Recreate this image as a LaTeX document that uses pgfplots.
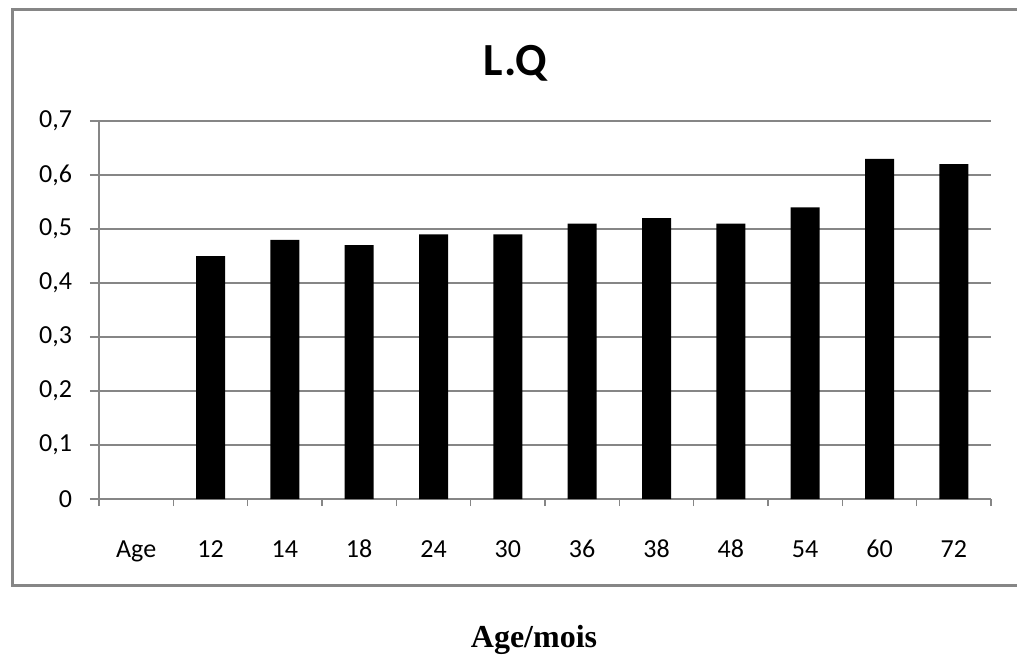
\documentclass[border=0pt]{standalone}
\usepackage{fontspec}
\setmainfont{Carlito}
\newfontfamily\timesf{Liberation Serif}
\usepackage{pgfplots}
\pgfplotsset{compat=1.18}
\definecolor{gridgray}{RGB}{134,134,134}
\begin{document}
\begin{tikzpicture}
\useasboundingbox (0,0) rectangle (508.5pt,327.5pt);
\fill[white] (0,0) rectangle (508.5pt,327.5pt);
\draw[gridgray, line width=1.5pt] (6pt,35pt) rectangle (512pt,322.75pt);
\begin{axis}[
  at={(49.5pt,78pt)}, anchor=south west,
  scale only axis, width=446pt, height=189pt,
  xmin=-0.5, xmax=11.5, ymin=0, ymax=0.7,
  axis x line*=bottom, axis y line*=left,
  axis line style={gridgray, line width=0.8pt},
  ytick={0,0.1,...,0.7},
  ymajorgrids, major grid style={gridgray, line width=0.8pt},
  tick label style={font=\fontsize{13pt}{15pt}\selectfont, text=black},
  yticklabel style={anchor=east, xshift=-5.5pt,
    /pgf/number format/use comma, /pgf/number format/fixed,
    /pgf/number format/precision=1, /pgf/number format/assume math mode=true},
  xticklabel style={anchor=base, yshift=-24.5pt},
  tick align=outside,
  y tick style={gridgray, line width=0.8pt},
  major tick length=4.5pt,
  xtick={0,...,11},
  xticklabels={Age,12,14,18,24,30,36,38,48,54,60,72},
  x tick style={draw=none},
  minor xtick={-0.5,0.5,...,11.5},
  minor x tick style={draw=gridgray, line width=0.8pt},
  minor tick length=3.5pt,
  ybar, bar width=14.5pt,
  clip=false,
]
\addplot[fill=black, draw=none] coordinates {
 (1,0.45) (2,0.48) (3,0.47) (4,0.49) (5,0.49) (6,0.51)
 (7,0.52) (8,0.51) (9,0.54) (10,0.63) (11,0.62)};
\end{axis}
\node[anchor=base, font=\fontsize{23pt}{27pt}\selectfont\bfseries] at (257.75pt,290pt) {L.Q};
\node[anchor=base, font=\timesf\fontsize{16pt}{19pt}\selectfont\bfseries] at (267pt,4pt) {Age/mois};
\end{tikzpicture}
\end{document}
